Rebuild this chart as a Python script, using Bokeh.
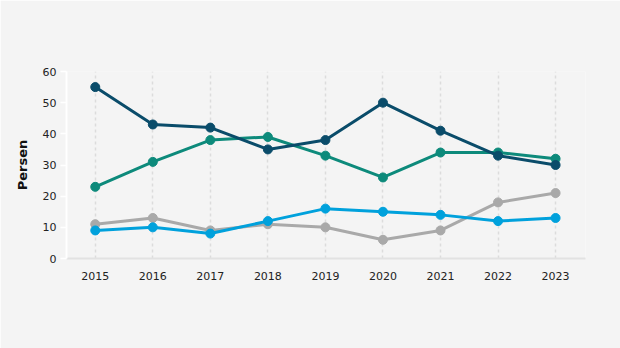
from bokeh.plotting import figure
from bokeh.models import Range1d, FixedTicker, ColumnDataSource
from bokeh.embed import file_html
from bokeh.resources import INLINE

years = [2015, 2016, 2017, 2018, 2019, 2020, 2021, 2022, 2023]
navy = [55, 43, 42, 35, 38, 50, 41, 33, 30]
teal = [23, 31, 38, 39, 33, 26, 34, 34, 32]
blue = [9, 10, 8, 12, 16, 15, 14, 12, 13]
gray = [11, 13, 9, 11, 10, 6, 9, 18, 21]
y_ticks = [0, 10, 20, 30, 40, 50, 60]

series = [
    (gray, "#a9a9a9"),
    (blue, "#00a1dc"),
    (teal, "#0d8a7b"),
    (navy, "#0a4c6a"),
]

p = figure(width=620, height=348, output_backend="svg", toolbar_location=None,
           x_range=Range1d(2014.5, 2023.52), y_range=Range1d(0, 60))
p.min_border_left = 66
p.min_border_right = 35
p.min_border_top = 71
p.min_border_bottom = 90
p.background_fill_color = "#f4f4f4"
p.border_fill_color = "#f4f4f4"
p.outline_line_color = None

p.ygrid.grid_line_color = None
p.xgrid.grid_line_color = "#dcdcdc"
p.xgrid.grid_line_dash = "3 3"
p.xgrid.grid_line_width = 1.5
p.xgrid.ticker = FixedTicker(ticks=years)

p.xaxis.ticker = FixedTicker(ticks=years)
p.xaxis.axis_line_color = "#e2e2e2"
p.xaxis.axis_line_width = 2
p.xaxis.major_tick_line_color = None
p.xaxis.minor_tick_line_color = None
p.xaxis.major_label_text_font = "DejaVu Sans"
p.xaxis.major_label_text_font_size = "11px"
p.xaxis.major_label_text_color = "#222222"
p.xaxis.major_label_standoff = 7

p.yaxis.ticker = FixedTicker(ticks=y_ticks)
p.yaxis.axis_line_color = "#ffffff"
p.yaxis.axis_line_width = 2
p.yaxis.major_tick_line_color = "#ffffff"
p.yaxis.major_tick_line_width = 1.5
p.yaxis.major_tick_out = 6
p.yaxis.major_tick_in = 0
p.yaxis.minor_tick_line_color = None
p.yaxis.major_label_text_font = "DejaVu Sans"
p.yaxis.major_label_text_font_size = "11px"
p.yaxis.major_label_text_color = "#222222"
p.yaxis.major_label_standoff = 4
p.yaxis.axis_label = "Persen"
p.yaxis.axis_label_text_font = "DejaVu Sans"
p.yaxis.axis_label_text_font_style = "bold"
p.yaxis.axis_label_text_font_size = "13px"
p.yaxis.axis_label_text_color = "#111111"
p.yaxis.axis_label_standoff = 10

for vals, color in series:
    src = ColumnDataSource(dict(x=years, y=vals))
    p.line("x", "y", source=src, line_color=color, line_width=3)
    p.scatter("x", "y", source=src, size=9, fill_color=color, line_color=color)

open("out.html", "w").write(file_html(p, INLINE))
